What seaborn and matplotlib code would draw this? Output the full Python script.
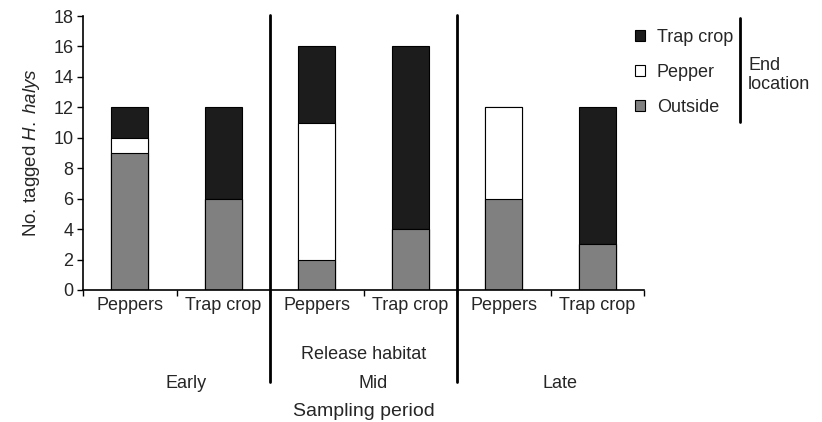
import numpy as np
import pandas as pd
import seaborn as sns
import matplotlib.pyplot as plt
from matplotlib.patches import Patch
from matplotlib.lines import Line2D

# data
periods = ["Early", "Mid", "Late"]
habitats = ["Peppers", "Trap crop"]
outside = [9, 6, 2, 4, 6, 3]
pepper = [1, 0, 9, 0, 6, 0]
trap_crop = [2, 6, 5, 12, 0, 9]

sns.set_theme(style="ticks")
plt.rcParams['font.family'] = ['Liberation Sans', 'DejaVu Sans']
plt.rcParams['mathtext.fontset'] = 'custom'
plt.rcParams['mathtext.rm'] = 'Liberation Sans'
plt.rcParams['mathtext.it'] = 'Liberation Sans:italic'

bar_id = [f"{p}-{h}" for p in periods for h in habitats]
df = pd.DataFrame({"bar": bar_id, "outside": outside, "pepper": pepper, "trap": trap_crop})
df["mid"] = df.outside + df.pepper
df["total"] = df.mid + df.trap

fig = plt.figure(figsize=(8.22, 4.22), dpi=100)
ax = fig.add_axes([0.101, 0.3128, 0.6825, 0.6492])

# stacked bars as overlaid cumulative layers
for col, color in [("total", "#1c1c1c"), ("mid", "white"), ("outside", "#808080")]:
    sns.barplot(data=df, x="bar", y=col, order=bar_id, color=color, width=0.4,
                edgecolor="black", linewidth=0.8, saturation=1, ax=ax)

ax.set_xlim(-0.5, 5.5)
ax.set_ylim(0, 18)
ax.set_yticks(range(0, 19, 2))
ax.set_xticks(range(6))
ax.set_xticklabels(habitats * 3)
ax.set_xticks(np.arange(-0.5, 6, 1), minor=True)
ax.tick_params(axis="x", which="major", length=0, labelsize=13, pad=5)
ax.tick_params(axis="x", which="minor", length=4, width=1, color="black", direction="out")
ax.tick_params(axis="y", labelsize=13, length=4, width=1, color="black", direction="out", pad=3)
for s in ["left", "bottom"]:
    ax.spines[s].set_color("black")
    ax.spines[s].set_linewidth(1.2)
sns.despine(ax=ax)
ax.set_xlabel("")
ax.set_ylabel(r"No. tagged $\it{H.\;halys}$", fontsize=13.5, labelpad=8)

# group separators
tr = ax.get_xaxis_transform()
for x in [1.5, 3.5]:
    ax.plot([x, x], [1.004, -0.336], transform=tr, color="black", lw=2, clip_on=False)

ax.text(2.5, -0.237, "Release habitat", transform=tr, ha="center", va="center", fontsize=13)
for i, p in enumerate(periods):
    ax.text(2 * i + 0.6, -0.34, p, transform=tr, ha="center", va="center", fontsize=13)
ax.text(2.5, -0.445, "Sampling period", transform=tr, ha="center", va="center", fontsize=14)

handles = [Patch(facecolor=c, edgecolor="black", linewidth=0.8)
           for c in ["#1c1c1c", "white", "#808080"]]
fig.legend(handles, ["Trap crop", "Pepper", "Outside"], loc="upper left",
           bbox_to_anchor=(0.7725, 0.932), frameon=False, fontsize=13,
           handlelength=0.55, handleheight=0.55, handletextpad=0.65,
           labelspacing=1.0, borderpad=0, borderaxespad=0)
fig.add_artist(Line2D([0.9, 0.9], [(422 - 18) / 422, (422 - 122) / 422],
                      transform=fig.transFigure, color="black", lw=2))
fig.text(0.91, (422 - 75) / 422, "End\nlocation", ha="left", va="center",
         fontsize=13, linespacing=1.2)

fig.savefig("out.png", dpi=100)
